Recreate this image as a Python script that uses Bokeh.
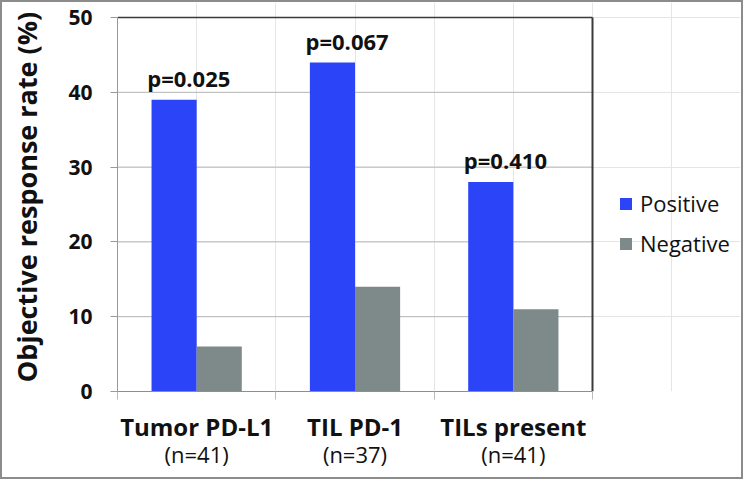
from bokeh.plotting import figure
from bokeh.models import (Range1d, FixedTicker, LinearAxis, ColumnDataSource, Legend,
                          LegendItem)
from bokeh.transform import dodge
from bokeh.core.properties import value
from bokeh.embed import file_html
from bokeh.resources import INLINE

categories = ["Tumor PD-L1", "TIL PD-1", "TILs present"]
sample_sizes = ["(n=41)", "(n=37)", "(n=41)"]
positive = [39, 44, 28]
negative = [6, 14, 11]
p_values = ["p=0.025", "p=0.067", "p=0.410"]
series = ["Positive", "Negative"]
y_ticks = [0, 10, 20, 30, 40, 50]

FONT = "Open Sans"
BLUE = "#2b44f8"
GRAY = "#7e8a8a"
INK = "#111111"

n = len(categories)
centers = [i + 0.5 for i in range(n)]
edges = [float(i) for i in range(n + 1)]
ymax = max(y_ticks)
grid_y = y_ticks[1:-1]

src = ColumnDataSource(dict(x=centers, pos=positive, neg=negative, p=p_values,
                            py=[v + 2.9 for v in positive]))
gsrc = ColumnDataSource(dict(y=grid_y, x0=[0] * len(grid_y), x1=[n] * len(grid_y)))

W, H = 743, 479
p = figure(width=W, height=H, output_backend="svg", toolbar_location=None,
           x_range=Range1d(0, n * 623 / 475), y_range=Range1d(0, ymax + 15 / 7.48),
           min_border_left=115, min_border_right=5, min_border_top=0, min_border_bottom=90,
           x_axis_location=None, y_axis_location=None)
p.outline_line_color = None
p.background_fill_color = "white"
p.border_fill_color = "white"
p.styles = {"border": "2px solid #8c8c8c", "box-sizing": "border-box"}

# y axis
yax = LinearAxis(ticker=FixedTicker(ticks=y_ticks), bounds=(0, ymax))
yax.axis_label = "Objective response rate (%)"
yax.axis_label_text_font = FONT
yax.axis_label_text_font_style = "bold"
yax.axis_label_text_font_size = "27px"
yax.axis_label_text_color = INK
yax.axis_label_standoff = 20
yax.major_label_text_font = FONT
yax.major_label_text_font_style = "bold"
yax.major_label_text_font_size = "21px"
yax.major_label_text_color = INK
yax.major_label_standoff = 18
yax.axis_line_color = "#999999"
yax.major_tick_line_color = "#999999"
yax.major_tick_out = 7
yax.major_tick_in = 0
yax.minor_tick_line_color = None
p.add_layout(yax, "left")

# horizontal gridlines, limited to the plotting frame
p.segment(x0="x0", y0="y", x1="x1", y1="y", source=gsrc, line_color="#b8b8b8", line_width=1)

# x axis: category labels
label_map = {c: lab for c, lab in zip(centers, categories)}
xax = LinearAxis(ticker=FixedTicker(ticks=centers, minor_ticks=edges),
                 major_label_overrides=label_map, bounds=(0, n))
xax.axis_line_color = "#8a9090"
xax.major_tick_line_color = None
xax.minor_tick_line_color = "#bbbbbb"
xax.minor_tick_out = 8
xax.minor_tick_in = 0
xax.major_label_standoff = 10
xax.major_label_text_font = FONT
xax.major_label_text_font_style = "bold"
xax.major_label_text_font_size = "24px"
xax.major_label_text_color = INK
p.add_layout(xax, "below")

n_map = {c: lab for c, lab in zip(centers, sample_sizes)}
xax2 = LinearAxis(ticker=FixedTicker(ticks=centers), major_label_overrides=n_map)
xax2.axis_line_color = None
xax2.major_tick_line_color = None
xax2.minor_tick_line_color = None
xax2.major_label_standoff = -13
xax2.major_label_text_font = FONT
xax2.major_label_text_font_size = "22px"
xax2.major_label_text_color = INK
p.add_layout(xax2, "below")

# frame top and right
p.segment(x0=[0, n], y0=[ymax, 0], x1=[n, n], y1=[ymax, ymax],
          line_color="#3a3a3a", line_width=[1.3, 2])

r1 = p.vbar(x=dodge("x", -0.1425, range=p.x_range), top="pos", width=0.285,
            source=src, fill_color=BLUE, line_color=None)
r2 = p.vbar(x=dodge("x", 0.1425, range=p.x_range), top="neg", width=0.285,
            source=src, fill_color=GRAY, line_color=None)

p.text(x=dodge("x", -0.05, range=p.x_range), y="py", text="p", source=src,
       text_font=value(FONT), text_font_style="bold", text_font_size="22px",
       text_align="center", text_baseline="alphabetic", text_color=INK)

legend = Legend(items=[LegendItem(label=series[0], renderers=[r1]),
                       LegendItem(label=series[1], renderers=[r2])],
                location=(501, 133))
legend.border_line_color = None
legend.background_fill_alpha = 0
legend.padding = 0
legend.margin = 0
legend.glyph_width = 15
legend.glyph_height = 15
legend.label_height = 30
legend.spacing = 10
legend.label_standoff = 7
legend.label_text_font = FONT
legend.label_text_font_size = "22px"
legend.label_text_color = INK
p.add_layout(legend)

open("out.html", "w").write(file_html(p, INLINE))
